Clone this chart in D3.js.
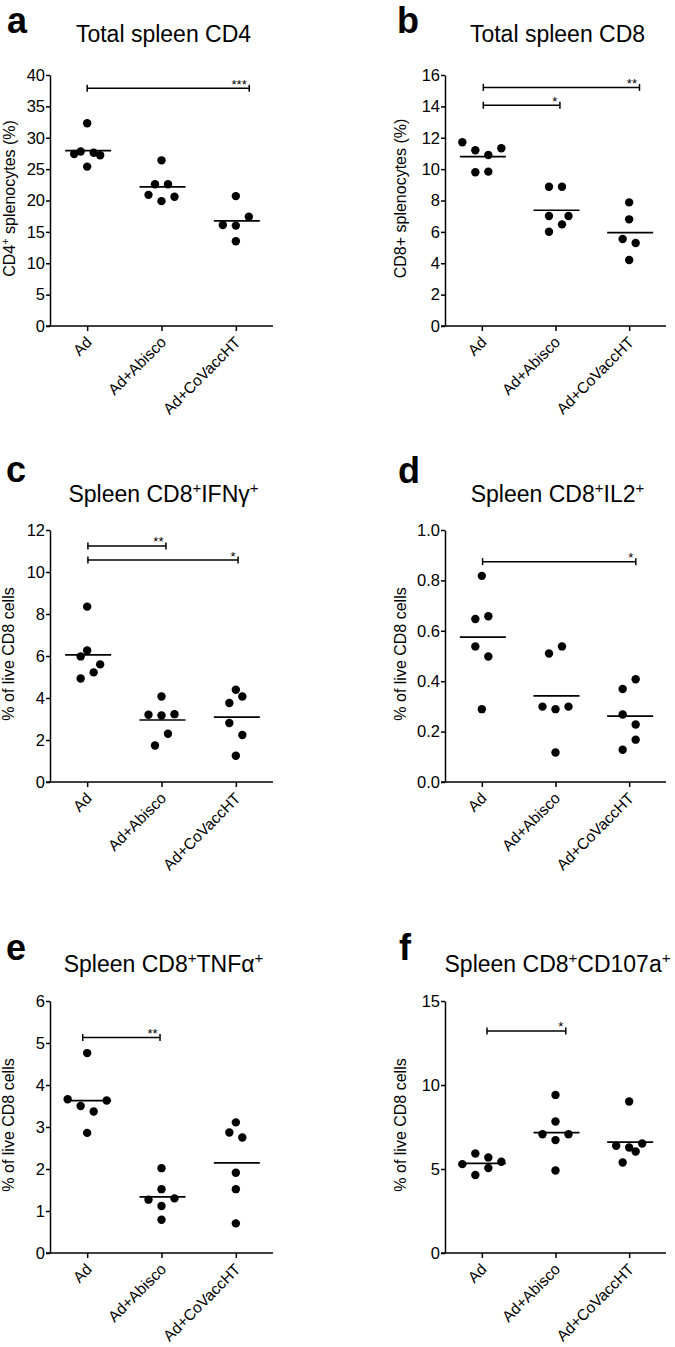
<!DOCTYPE html>
<html><head><meta charset="utf-8">
<script src="https://cdn.jsdelivr.net/npm/d3@7"></script>
<style>
body{margin:0;background:#fff}
text{font-family:"Liberation Sans",Arial,Helvetica,sans-serif;fill:#000}
</style>
</head><body>
<svg id="chart" width="675" height="1347"></svg>
<script>
const categories = ["Ad", "Ad+Abisco", "Ad+CoVaccHT"];

// Panel a: Total spleen CD4
const aValues = [[32.3, 27.8, 27.6, 27.4, 27.2, 25.4], [26.4, 22.6, 22.6, 20.9, 20.6, 19.9], [20.7, 17.4, 16.1, 16.0, 13.5]];
const aSlots  = [[0, -1, 1, -2, 2, 0], [0, -1, 1, -2, 2, 0], [0, 2, -2, 0, 0]];
const aTicks  = [0, 5, 10, 15, 20, 25, 30, 35, 40];
const aSig    = [{from: 0, to: 2.18, y: 37.9, label: "***"}];

// Panel b: Total spleen CD8
const bValues = [[11.71, 11.2, 10.9, 11.33, 9.8, 9.84], [8.88, 8.88, 7.01, 7.01, 6.48, 6.01], [7.88, 6.8, 5.55, 5.29, 4.21]];
const bSlots  = [[-3, -1, 1, 3, -1, 1], [-1, 1, -1, 2, 1, -1], [0, 0, -1, 1, 0]];
const bTicks  = [0, 2, 4, 6, 8, 10, 12, 14, 16];
const bSig    = [{from: 0.02, to: 2.14, y: 15.21, label: "**"}, {from: 0.02, to: 1.06, y: 14.07, label: "*"}];

// Panel c: Spleen CD8+IFNγ+
const cValues = [[8.35, 6.26, 5.98, 5.6, 5.22, 4.93], [4.07, 3.2, 3.17, 3.23, 2.3, 1.74], [4.39, 4.07, 3.76, 2.81, 2.24, 1.25]];
const cSlots  = [[0, 0, -1, 2, 1, -1], [0, -2, 0, 2, 1, -1], [0, 1, -1, -1, 1, 0]];
const cTicks  = [0, 2, 4, 6, 8, 10, 12];
const cSig    = [{from: 0.01, to: 1.06, y: 11.24, label: "**"}, {from: 0.01, to: 2.03, y: 10.57, label: "*"}];

// Panel d: Spleen CD8+IL2+
const dValues = [[0.818, 0.647, 0.658, 0.538, 0.498, 0.289], [0.51, 0.538, 0.299, 0.289, 0.299, 0.117], [0.408, 0.369, 0.268, 0.228, 0.168, 0.128]];
const dSlots  = [[0, -1, 1, -1, 1, 0], [-1, 1, -2, 0, 2, 0], [1, -1, -1, 1, 1, -1]];
const dTicks  = [0, 0.2, 0.4, 0.6, 0.8, 1.0];
const dSig    = [{from: 0.01, to: 2.09, y: 0.8745, label: "*"}];

// Panel e: Spleen CD8+TNFα+
const eValues = [[4.76, 3.66, 3.5, 3.37, 3.63, 2.86], [2.02, 1.52, 1.27, 1.3, 1.12, 0.79], [3.11, 2.87, 2.75, 1.91, 1.52, 0.705]];
const eSlots  = [[0, -3, -1, 1, 3, 0], [0, 0, -2, 2, 0, 0], [0, -1, 1, 0, 0, 0]];
const eTicks  = [0, 1, 2, 3, 4, 5, 6];
const eSig    = [{from: -0.06, to: 0.98, y: 5.13, label: "**"}];

// Panel f: Spleen CD8+CD107a+
const fValues = [[5.29, 5.92, 5.69, 5.43, 4.64, 5.06], [9.41, 7.83, 7.07, 7.07, 6.72, 4.91], [9.02, 6.38, 6.28, 6.52, 6.04, 5.39]];
const fSlots  = [[-3, -1, 1, 3, -1, 1], [0, 0, -2, 2, 0, 0], [0, -2, 0, 2, 1, -1]];
const fTicks  = [0, 5, 10, 15];
const fSig    = [{from: 0.07, to: 1.14, y: 13.22, label: "*"}];

const svg = d3.select("#chart");

const panels = [
  {letter: "a", title: [["Total spleen CD4"]], ylab: [["CD4"], ["+", 1], [" splenocytes (%)"]],
   values: aValues, slots: aSlots, ticks: aTicks, sig: aSig, fmt: d3.format("d"),
   x0: 50, x1: 273, y0: 75, y1: 326, letterX: 7, letterY: 33, titleY: 42, ylabX: 15},
  {letter: "b", title: [["Total spleen CD8"]], ylab: [["CD8+ splenocytes (%)"]],
   values: bValues, slots: bSlots, ticks: bTicks, sig: bSig, fmt: d3.format("d"),
   x0: 445, x1: 666, y0: 75, y1: 326, letterX: 397, letterY: 33, titleY: 42, ylabX: 406},
  {letter: "c", title: [["Spleen CD8"], ["+", 1], ["IFN\u03b3"], ["+", 1]], ylab: [["% of live CD8 cells"]],
   values: cValues, slots: cSlots, ticks: cTicks, sig: cSig, fmt: d3.format("d"),
   x0: 50, x1: 273, y0: 530, y1: 782, letterX: 6, letterY: 482, titleY: 502, ylabX: 14},
  {letter: "d", title: [["Spleen CD8"], ["+", 1], ["IL2"], ["+", 1]], ylab: [["% of live CD8 cells"]],
   values: dValues, slots: dSlots, ticks: dTicks, sig: dSig, fmt: d3.format(".1f"),
   x0: 445, x1: 666, y0: 530, y1: 782, letterX: 398, letterY: 483, titleY: 502, ylabX: 406},
  {letter: "e", title: [["Spleen CD8"], ["+", 1], ["TNF\u03b1"], ["+", 1]], ylab: [["% of live CD8 cells"]],
   values: eValues, slots: eSlots, ticks: eTicks, sig: eSig, fmt: d3.format("d"),
   x0: 50, x1: 273, y0: 1001, y1: 1253, letterX: 6, letterY: 960, titleY: 972, ylabX: 14},
  {letter: "f", title: [["Spleen CD8"], ["+", 1], ["CD107a"], ["+", 1]], ylab: [["% of live CD8 cells"]],
   values: fValues, slots: fSlots, ticks: fTicks, sig: fSig, fmt: d3.format("d"),
   x0: 445, x1: 666, y0: 1001, y1: 1253, letterX: 399, letterY: 960, titleY: 972, ylabX: 406}
];

const SLOT = 6.5, R = 4.2, TFS = 16.5, LFS = 16, CFS = 15.5;

function richText(sel, parts, supSize, supShift) {
  let prevSup = false;
  parts.forEach(p => {
    const t = sel.append("tspan").text(p[0]);
    const isSup = !!p[1];
    if (isSup && !prevSup) t.attr("font-size", supSize).attr("dy", -supShift);
    else if (isSup) t.attr("font-size", supSize);
    else if (prevSup) t.attr("dy", supShift);
    prevSup = isSup;
  });
}

panels.forEach(p => {
  const g = svg.append("g");
  const x = d3.scalePoint().domain(categories).range([p.x0, p.x1]).padding(0.5);
  const step = x.step();
  const xi = i => x(categories[0]) + i * step;
  const ymax = p.ticks[p.ticks.length - 1];
  const y = d3.scaleLinear().domain([0, ymax]).range([p.y1, p.y0]);

  // Panel letter
  g.append("text").attr("x", p.letterX).attr("y", p.letterY)
    .attr("font-size", 36).attr("font-weight", "bold").text(p.letter);

  // Title
  const tcx = (p.x0 + p.x1) / 2 + 2;
  const tt = g.append("text").attr("x", tcx).attr("y", p.titleY)
    .attr("text-anchor", "middle").attr("font-size", 23);
  richText(tt, p.title, 15, 9);

  // Y axis
  const yAxis = d3.axisLeft(y).tickValues(p.ticks).tickFormat(p.fmt)
    .tickSize(4).tickSizeOuter(0).tickPadding(1);
  const ga = g.append("g").attr("transform", `translate(${p.x0},0)`).call(yAxis);
  ga.attr("font-size", null).attr("font-family", null);
  ga.selectAll("text").attr("font-size", TFS).attr("fill", "#000");
  ga.selectAll("path,line").attr("stroke", "#000").attr("stroke-width", 1.5);

  // X axis
  const xAxis = d3.axisBottom(x).tickSize(5).tickSizeOuter(0);
  const gx = g.append("g").attr("transform", `translate(0,${p.y1})`).call(xAxis);
  gx.attr("font-size", null).attr("font-family", null);
  gx.select(".domain").attr("d", `M${p.x0 - 4},0H${p.x1}`);
  gx.selectAll("path,line").attr("stroke", "#000").attr("stroke-width", 1.5);
  gx.selectAll("text").attr("font-size", CFS).attr("fill", "#000")
    .attr("text-anchor", "end")
    .attr("transform", "translate(-3,9) rotate(-45)")
    .attr("x", 0).attr("y", 0).attr("dy", "0.75em");

  // Y label
  const ylc = (p.y0 + p.y1) / 2 - 2;
  const yl = g.append("text").attr("font-size", LFS)
    .attr("text-anchor", "middle")
    .attr("transform", `translate(${p.ylabX},${ylc}) rotate(-90)`);
  richText(yl, p.ylab, 11, 6);

  // Dots + mean lines
  p.values.forEach((vals, ci) => {
    const cx = x(categories[ci]);
    g.append("g").selectAll("circle").data(vals).join("circle")
      .attr("cx", (d, i) => cx + p.slots[ci][i] * SLOT)
      .attr("cy", d => y(d))
      .attr("r", R).attr("fill", "#000");
    const m = d3.mean(vals);
    g.append("line").attr("x1", cx - 22).attr("x2", cx + 24)
      .attr("y1", y(m)).attr("y2", y(m))
      .attr("stroke", "#000").attr("stroke-width", 1.7);
  });

  // Significance bars
  p.sig.forEach(s => {
    const xa = xi(s.from), xb = xi(s.to), yy = y(s.y);
    const sg = g.append("g").attr("stroke", "#000").attr("stroke-width", 1.5);
    sg.append("line").attr("x1", xa).attr("x2", xb).attr("y1", yy).attr("y2", yy);
    sg.append("line").attr("x1", xa).attr("x2", xa).attr("y1", yy - 3.5).attr("y2", yy + 3.5);
    sg.append("line").attr("x1", xb).attr("x2", xb).attr("y1", yy - 3.5).attr("y2", yy + 3.5);
    g.append("text").attr("x", xb - 2.5).attr("y", yy + 0.5)
      .attr("text-anchor", "end").attr("font-size", 13).text(s.label);
  });
});
</script>
</body></html>
